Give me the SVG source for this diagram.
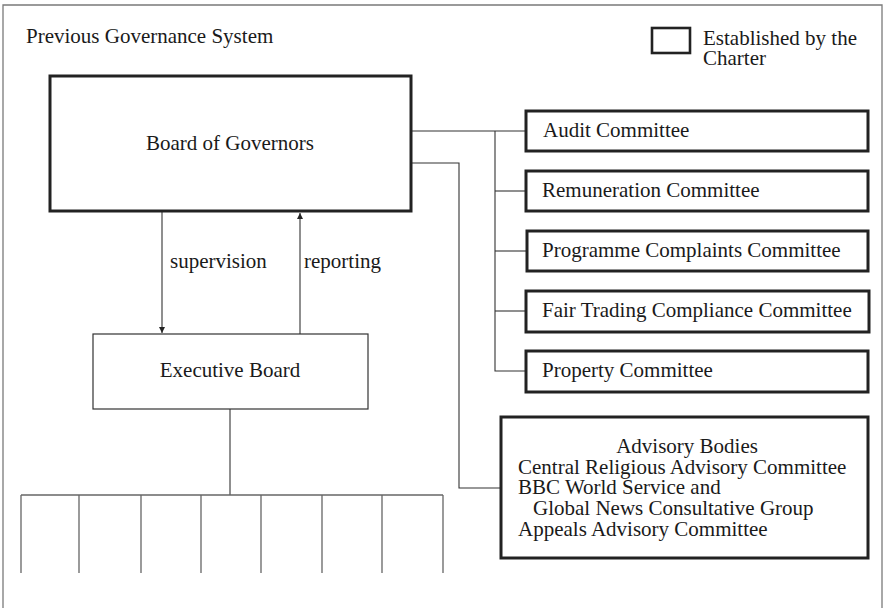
<svg xmlns="http://www.w3.org/2000/svg" width="883" height="608" viewBox="0 0 883 608">
  <defs>
    <marker id="arrow" viewBox="0 0 6 6" refX="6" refY="3" markerWidth="6" markerHeight="6" markerUnits="userSpaceOnUse" orient="auto">
      <path d="M0,0 L6,3 L0,6 z" fill="#222"/>
    </marker>
  </defs>
  <style>
    text { font-family: "Liberation Serif", "Times New Roman", serif; font-size: 21px; fill: #1a1a1a; }
    .frame { fill: none; stroke: #7a7a7a; stroke-width: 1.3; }
    .charter { fill: #fff; stroke: #222; stroke-width: 3; }
    .plain { fill: #fff; stroke: #333; stroke-width: 1.2; }
    .link { fill: none; stroke: #333; stroke-width: 1.1; }
    .unit { fill: none; stroke: #666; stroke-width: 1.3; }
    .mid { text-anchor: middle; }
  </style>

  <rect x="0" y="0" width="883" height="608" fill="#fff"/>

  <!-- open frame: no bottom edge -->
  <path class="frame" d="M3,608 V5 H882 V608"/>

  <text x="26" y="43">Previous Governance System</text>

  <!-- legend -->
  <g id="legend">
    <rect x="652" y="28" width="38" height="25" fill="#fff" stroke="#222" stroke-width="2.6"/>
    <text x="703" y="45">Established by the</text>
    <text x="703" y="65">Charter</text>
  </g>

  <!-- connectors -->
  <g id="connectors">
    <!-- governors to committees -->
    <path class="link" d="M411,131 H526"/>
    <path class="link" d="M495,131 V371 H526"/>
    <path class="link" d="M495,191 H526"/>
    <path class="link" d="M495,251 H526"/>
    <path class="link" d="M495,311 H526"/>
    <!-- governors to advisory bodies -->
    <path class="link" d="M411,163 H459 V488 H501"/>
    <!-- supervision / reporting -->
    <path class="link" d="M162,212 V333" marker-end="url(#arrow)"/>
    <path class="link" d="M300,334 V213" marker-end="url(#arrow)"/>
    <!-- executive board to divisions -->
    <path class="link" d="M230,409 V495"/>
    <path class="unit" d="M21,495 H443"/>
    <path class="unit" d="M21,495 V573 M79,495 V573 M141,495 V573 M201,495 V573 M261,495 V573 M322,495 V573 M382,495 V573 M443,495 V573"/>
    <text x="170" y="268">supervision</text>
    <text x="304" y="268">reporting</text>
  </g>

  <g id="board-of-governors">
    <rect class="charter" x="50" y="76" width="361" height="135"/>
    <text class="mid" x="230" y="150">Board of Governors</text>
  </g>

  <g id="executive-board">
    <rect class="plain" x="93" y="334" width="275" height="75"/>
    <text class="mid" x="230" y="377">Executive Board</text>
  </g>

  <g id="audit-committee">
    <rect class="charter" x="526" y="111" width="342" height="40"/>
    <text x="543" y="137">Audit Committee</text>
  </g>

  <g id="remuneration-committee">
    <rect class="charter" x="526" y="171" width="342" height="40"/>
    <text x="542" y="197">Remuneration Committee</text>
  </g>

  <g id="programme-complaints-committee">
    <rect class="charter" x="527" y="231" width="341" height="40"/>
    <text x="542" y="257">Programme Complaints Committee</text>
  </g>

  <g id="fair-trading-compliance-committee">
    <rect class="charter" x="526" y="291" width="343" height="41"/>
    <text x="542" y="317">Fair Trading Compliance Committee</text>
  </g>

  <g id="property-committee">
    <rect class="charter" x="526" y="351" width="342" height="41"/>
    <text x="542" y="377">Property Committee</text>
  </g>

  <g id="advisory-bodies">
    <rect class="charter" x="501" y="417" width="367" height="141"/>
    <text class="mid" x="687" y="453">Advisory Bodies</text>
    <text x="518" y="474">Central Religious Advisory Committee</text>
    <text x="518" y="494">BBC World Service and</text>
    <text x="533" y="515">Global News Consultative Group</text>
    <text x="518" y="536">Appeals Advisory Committee</text>
  </g>
</svg>
